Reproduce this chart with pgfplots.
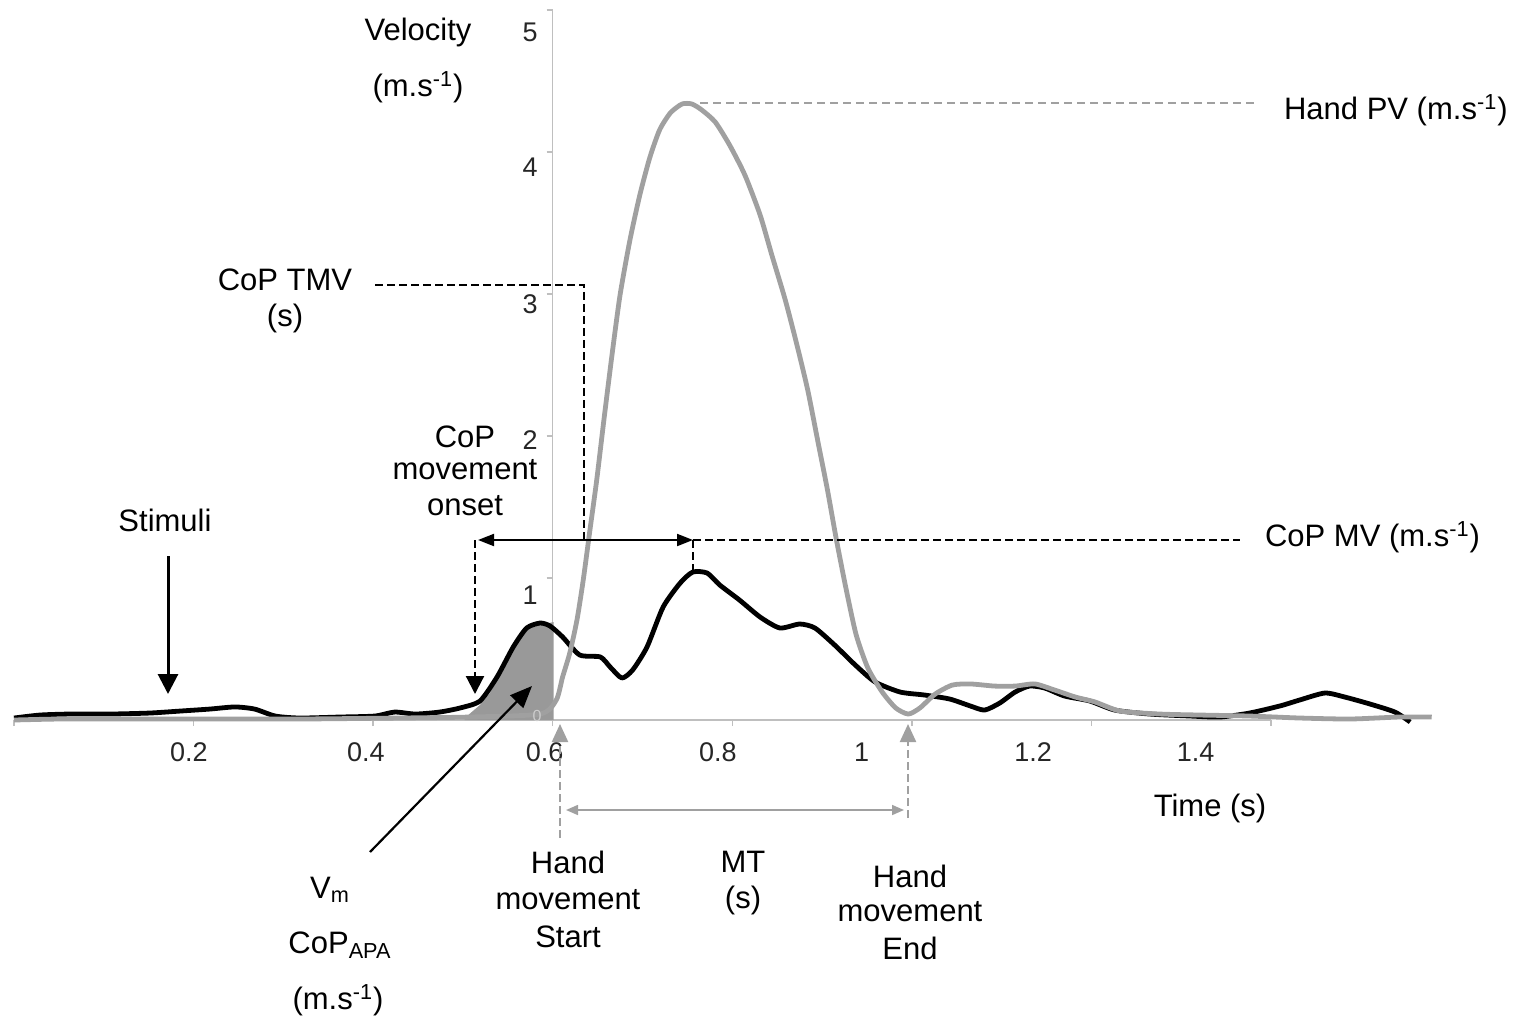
\documentclass[border=0pt]{standalone}
\usepackage{fontspec}
\setmainfont{Liberation Sans}
\usepackage{pgfplots}
\pgfplotsset{compat=1.18}
\usepackage{pgfplotstable}
\usetikzlibrary{arrows.meta}
\definecolor{handgray}{HTML}{A0A0A0}
\definecolor{fillgray}{HTML}{999999}
\definecolor{axisgray}{HTML}{BFBFBF}
\newcommand{\lab}{\fontsize{15.5}{18}\selectfont}
\newcommand{\tlab}{\fontsize{13.5}{15}\selectfont}

% CoP velocity (black), time in s, velocity in m/s
\pgfplotstableread{
t v
0.000 0.014
0.029 0.035
0.062 0.042
0.107 0.042
0.151 0.049
0.185 0.063
0.218 0.077
0.246 0.092
0.268 0.077
0.291 0.028
0.318 0.014
0.363 0.021
0.402 0.028
0.424 0.056
0.447 0.042
0.474 0.056
0.497 0.085
0.519 0.134
0.538 0.303
0.556 0.514
0.571 0.648
0.586 0.683
0.597 0.662
0.611 0.585
0.630 0.458
0.653 0.444
0.664 0.373
0.677 0.296
0.689 0.352
0.705 0.514
0.723 0.796
0.742 0.965
0.756 1.042
0.772 1.035
0.786 0.951
0.808 0.845
0.831 0.725
0.853 0.648
0.875 0.676
0.892 0.648
0.914 0.528
0.937 0.387
0.959 0.268
0.987 0.197
1.014 0.176
1.042 0.148
1.065 0.099
1.081 0.070
1.098 0.120
1.115 0.197
1.131 0.239
1.148 0.225
1.170 0.169
1.198 0.134
1.226 0.070
1.265 0.042
1.310 0.028
1.343 0.021
1.376 0.049
1.410 0.099
1.432 0.141
1.460 0.190
1.482 0.162
1.510 0.113
1.538 0.056
1.555 -0.014
}\copdata

% Hand velocity (grey)
\pgfplotstableread{
t v
0.000 0.000
0.051 0.007
0.118 0.007
0.207 0.007
0.318 0.007
0.430 0.014
0.508 0.021
0.586 0.042
0.604 0.141
0.611 0.303
0.619 0.472
0.627 0.704
0.634 0.986
0.641 1.317
0.649 1.690
0.657 2.113
0.666 2.570
0.675 2.993
0.686 3.380
0.697 3.697
0.708 3.958
0.719 4.155
0.731 4.275
0.744 4.338
0.755 4.338
0.766 4.296
0.781 4.211
0.797 4.049
0.814 3.838
0.831 3.556
0.844 3.275
0.859 2.958
0.872 2.641
0.884 2.324
0.895 1.972
0.906 1.620
0.916 1.268
0.927 0.915
0.938 0.599
0.951 0.366
0.967 0.197
0.982 0.085
0.996 0.042
1.009 0.085
1.026 0.183
1.045 0.246
1.065 0.254
1.092 0.239
1.115 0.239
1.137 0.254
1.159 0.211
1.182 0.162
1.204 0.127
1.232 0.063
1.276 0.042
1.321 0.035
1.376 0.028
1.432 0.014
1.488 0.007
1.543 0.021
1.579 0.021
}\handdata

% CoP APA area (Vm)
\pgfplotstableread{
t v
0.502 0.014
0.519 0.106
0.530 0.190
0.545 0.352
0.560 0.563
0.575 0.648
0.586 0.669
0.601 0.690
}\apadata

\begin{document}
\begin{tikzpicture}
\begin{axis}[
  scale only axis, width=628.5pt, height=355pt,
  xmin=-0.6, xmax=0.8, ymin=0, ymax=5,
  axis lines=middle,
  axis line style={draw=axisgray, line width=0.75pt, -},
  clip=false,
  hide obscured x ticks=false, hide obscured y ticks=false,
  xtick={-0.6,-0.4,-0.2,0,0.2,0.4,0.6,0.8}, xticklabels={},
  ytick={0,1,2,3,4,5}, yticklabels={},
  tick align=outside, major tick length=3pt,
  tick style={draw=axisgray, line width=0.75pt},
  every tick label/.append style={text=black!85},
  xticklabel style={yshift=-8pt},
  yticklabel style={xshift=-4pt},
  extra x ticks={-0.4051,-0.208,-0.009,0.184,0.344,0.535,0.716},
  extra x tick labels={{\tlab 0.2},{\tlab 0.4},{\tlab 0.6},{\tlab 0.8},{\tlab 1},{\tlab 1.2},{\tlab 1.4}},
  extra x tick style={major tick length=0pt, tick style={draw=none}},
  extra y ticks={4.845,3.89,2.93,1.97,0.88},
  extra y tick labels={{\tlab 5},{\tlab 4},{\tlab 3},{\tlab 2},{\tlab 1}},
  extra y tick style={major tick length=0pt, tick style={draw=none}},
]
\addplot[fill=fillgray, draw=none] table[x expr=\thisrow{t}-0.6, y=v] {\apadata} \closedcycle;
\addplot[black, line width=2.4pt, line join=round, smooth, tension=0.4] table[x expr=\thisrow{t}-0.6, y=v] {\copdata};
\addplot[handgray, line width=2.4pt, line join=round, smooth, tension=0.4] table[x expr=\thisrow{t}-0.6, y=v] {\handdata};
\coordinate (O) at (axis cs:-0.6,0);
\end{axis}

\begin{scope}[shift={(O)}, x=0.5pt, y=-0.5pt, shift={(-14,-720)}]
\node[font=\fontsize{8}{9}\selectfont, text=white!80!black] at (537,716) {0};
\node[font=\lab] at (418,32) {Velocity};
\node[font=\lab] at (418,87) {(m.s\textsuperscript{-1})};
\node[font=\lab] at (285,280) {CoP TMV};
\node[font=\lab] at (285,318) {(s)};
\draw[black, line width=1.1pt, dash pattern=on 4pt off 2pt] (375,285) -- (584,285) -- (584,540);
\node[font=\lab] at (465,437) {CoP};
\node[font=\lab] at (465,470) {movement};
\node[font=\lab] at (465,506) {onset};
\draw[black, line width=1pt, {Triangle[length=8pt,width=6pt]}-{Triangle[length=8pt,width=6pt]}] (478,540) -- (693,540);
\draw[black, line width=1.1pt, dash pattern=on 4pt off 2pt] (693,540) -- (1240,540);
\draw[black, line width=1.1pt, dash pattern=on 4pt off 2pt] (693,540) -- (693,570);
\draw[black, line width=1.1pt, dash pattern=on 4pt off 2pt, -{Triangle[length=9pt,width=9pt]}] (475,540) -- (475,694);
\node[font=\lab, anchor=west] at (1258,537) {CoP MV (m.s\textsuperscript{-1})};
\node[font=\lab, anchor=west] at (1277,110) {Hand PV (m.s\textsuperscript{-1})};
\draw[handgray, line width=0.8pt, dash pattern=on 4pt off 2.5pt] (700,103) -- (1255,103);
\node[font=\lab] at (165,520) {Stimuli};
\draw[black, line width=1.5pt, -{Triangle[length=10pt,width=10pt]}] (168,556) -- (168,694);
\draw[black, line width=1.1pt, -{Triangle[length=11pt,width=9pt]}] (370,852) -- (532,686);
\node[font=\lab] at (330,890) {V\textsubscript{m}};
\node[font=\lab] at (340,945) {CoP\textsubscript{APA}};
\node[font=\lab] at (338,1000) {(m.s\textsuperscript{-1})};
\draw[handgray, line width=1.1pt, dash pattern=on 4pt off 2pt, -{Triangle[length=9pt,width=8pt]}] (560,838) -- (560,724);
\draw[handgray, line width=1.1pt, dash pattern=on 4pt off 2pt, -{Triangle[length=9pt,width=8pt]}] (908,818) -- (908,724);
\draw[handgray, line width=0.8pt, {Triangle[length=6pt,width=5pt]}-{Triangle[length=6pt,width=5pt]}] (566,810) -- (904,810);
\node[font=\lab] at (568,862) {Hand};
\node[font=\lab] at (568,900) {movement};
\node[font=\lab] at (568,937) {Start};
\node[font=\lab] at (743,862) {MT};
\node[font=\lab] at (743,900) {(s)};
\node[font=\lab] at (910,876) {Hand};
\node[font=\lab] at (910,912) {movement};
\node[font=\lab] at (910,948) {End};
\node[font=\lab] at (1210,808) {Time (s)};
\pgfresetboundingbox
\path[use as bounding box] (0,0) rectangle (1518,1018);
\end{scope}
\end{tikzpicture}
\end{document}
